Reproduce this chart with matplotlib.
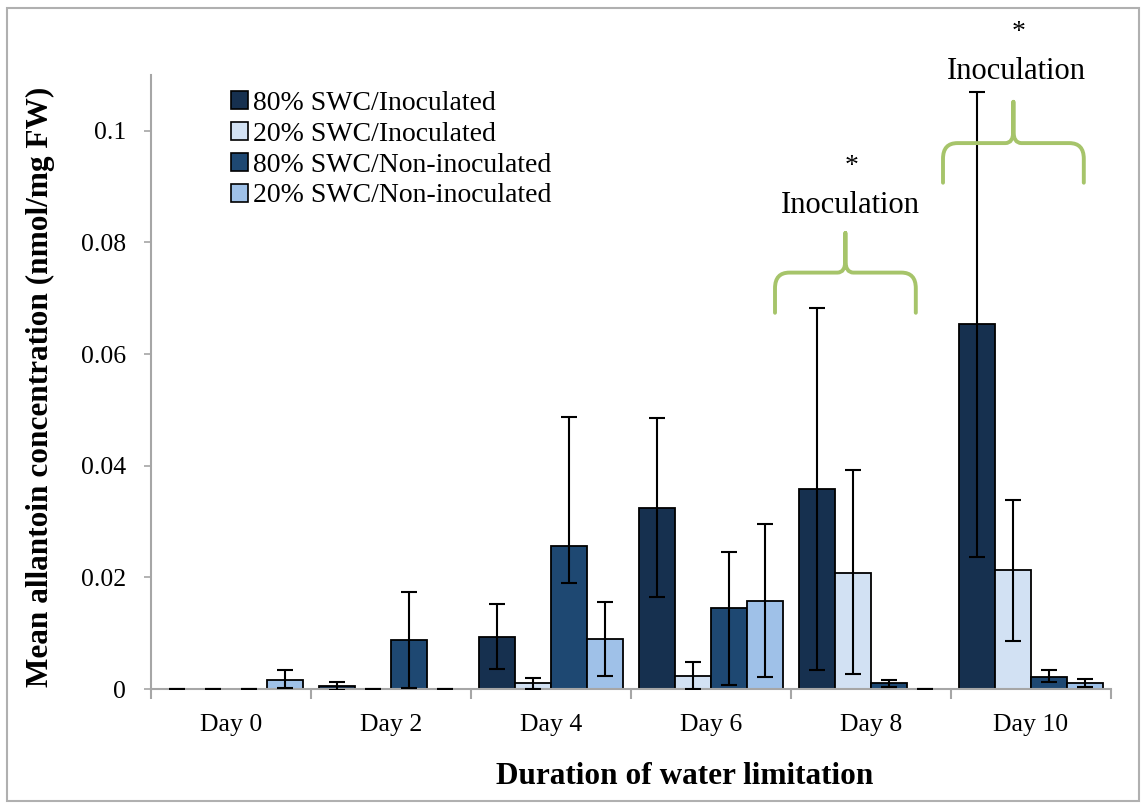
import matplotlib
matplotlib.use("Agg")
import matplotlib.pyplot as plt
import matplotlib.patches as mpatches
from matplotlib.path import Path
import numpy as np

# ── Datos ────────────────────────────────────────────────────────────────────
days = ["Day 0", "Day 2", "Day 4", "Day 6", "Day 8", "Day 10"]
series_names = [
    "80% SWC/Inoculated",
    "20% SWC/Inoculated",
    "80% SWC/Non-inoculated",
    "20% SWC/Non-inoculated",
]
inoc_80 = [0.0, 0.0006, 0.0094, 0.0324, 0.0358, 0.0654]
inoc_20 = [0.0, 0.0, 0.0010, 0.0024, 0.0208, 0.0213]
noninoc_80 = [0.0, 0.0087, 0.0257, 0.0146, 0.0010, 0.0021]
noninoc_20 = [0.0017, 0.0, 0.0089, 0.0158, 0.0, 0.0011]

# error inferior / superior
inoc_80_err = [[0.0, 0.0007, 0.0058, 0.0160, 0.0324, 0.0417],
               [0.0, 0.0007, 0.0058, 0.0162, 0.0325, 0.0416]]
inoc_20_err = [[0.0, 0.0, 0.0010, 0.0024, 0.0182, 0.0127],
               [0.0, 0.0, 0.0010, 0.0024, 0.0184, 0.0126]]
noninoc_80_err = [[0.0, 0.0086, 0.0067, 0.0138, 0.0006, 0.0008],
                  [0.0, 0.0086, 0.0231, 0.0100, 0.0006, 0.0013]]
noninoc_20_err = [[0.0016, 0.0, 0.0066, 0.0137, 0.0, 0.0007],
                  [0.0017, 0.0, 0.0066, 0.0138, 0.0, 0.0007]]

y_ticks = [0, 0.02, 0.04, 0.06, 0.08, 0.1]
y_tick_labels = ["0", "0.02", "0.04", "0.06", "0.08", "0.1"]

# Colores por serie
_COLORS = ["#16304f", "#d2e1f3", "#1e4872", "#9fc1e8"]
_BRACE_COLOR = "#a6c46a"
_GRAY = "#a6a6a6"

plt.rcParams["font.family"] = ["Liberation Serif", "DejaVu Serif"]

fig = plt.figure(figsize=(11.47, 8.09), dpi=100)
ax = fig.add_axes([151 / 1147, 120 / 809, 960 / 1147, 614 / 809])

values = [inoc_80, inoc_20, noninoc_80, noninoc_20]
errors = [inoc_80_err, inoc_20_err, noninoc_80_err, noninoc_20_err]

x = np.arange(len(days))
w = 0.225
for k, (vals, err) in enumerate(zip(values, errors)):
    pos = x + (k - 1.5) * w
    ax.bar(pos, vals, width=w, color=_COLORS[k], edgecolor="black",
           linewidth=1.3, label=series_names[k], zorder=2)
    ax.errorbar(pos, vals, yerr=np.array(err), fmt="none", ecolor="black",
                elinewidth=1.5, capsize=5.8, capthick=1.5, zorder=3)

# ── Ejes ─────────────────────────────────────────────────────────────────────
ax.set_xlim(-0.5, len(days) - 0.5)
ax.set_ylim(0, 0.11)
ax.set_yticks(y_ticks)
ax.set_yticklabels(y_tick_labels)
ax.set_xticks(x)
ax.set_xticklabels(days)
ax.set_xticks(np.arange(len(days) + 1) - 0.5, minor=True)
ax.tick_params(axis="x", which="major", length=0, pad=18, labelsize=18.5)
ax.tick_params(axis="x", which="minor", length=7, width=1.5,
               color=_GRAY, direction="out")
ax.tick_params(axis="y", length=5, width=1.2, color=_GRAY, pad=13,
               labelsize=18.5)
for side in ["top", "right"]:
    ax.spines[side].set_visible(False)
for side in ["left", "bottom"]:
    ax.spines[side].set_color(_GRAY)
    ax.spines[side].set_linewidth(1.5)

fig.text(40 / 1147, 1 - 387 / 809,
         "Mean allantoin concentration (nmol/mg FW)",
         rotation=90, ha="center", va="center", fontsize=22.5,
         fontweight="bold")
fig.text(685 / 1147, 1 - 777 / 809, "Duration of water limitation",
         ha="center", va="center", fontsize=22.5, fontweight="bold")

# ── Leyenda ──────────────────────────────────────────────────────────────────
handles = [mpatches.Patch(facecolor=_COLORS[k], edgecolor="black",
                          linewidth=1.2, label=series_names[k])
           for k in range(4)]
ax.legend(handles=handles, loc="upper left",
          bbox_to_anchor=(231 / 1147, 1 - 91 / 809),
          bbox_transform=fig.transFigure, frameon=False, fontsize=20,
          handlelength=0.6, handleheight=0.6, handletextpad=0.2,
          labelspacing=0.21, borderpad=0, borderaxespad=0)


# ── Llaves "Inoculation" ─────────────────────────────────────────────────────
def draw_brace(ax, x0, x1, xm, ybar, yend, ytip):
    rx, ry = 0.09, 0.0028
    tx, ty = 0.05, 0.0022
    verts = [
        (x0, yend), (x0, ybar - ry), (x0, ybar), (x0 + rx, ybar),
        (xm - tx, ybar), (xm, ybar), (xm, ybar + ty), (xm, ytip),
        (xm, ytip), (xm, ybar + ty), (xm, ybar), (xm + tx, ybar),
        (x1 - rx, ybar), (x1, ybar), (x1, ybar - ry), (x1, yend),
    ]
    codes = [
        Path.MOVETO, Path.LINETO, Path.CURVE3, Path.CURVE3,
        Path.LINETO, Path.CURVE3, Path.CURVE3, Path.LINETO,
        Path.MOVETO, Path.LINETO, Path.CURVE3, Path.CURVE3,
        Path.LINETO, Path.CURVE3, Path.CURVE3, Path.LINETO,
    ]
    patch = mpatches.PathPatch(Path(verts, codes), facecolor="none",
                               edgecolor=_BRACE_COLOR, linewidth=2.8,
                               capstyle="round", joinstyle="round",
                               clip_on=False, zorder=4)
    ax.add_patch(patch)


brace_specs = [
    # x0, x1, xm, ybar, yend, ytip, texto_x, texto_y, asterisco_y
    (3.40, 4.28, 3.84, 0.0746, 0.0674, 0.0817, 3.87, 0.0866, 0.0936),
    (4.45, 5.33, 4.89, 0.0978, 0.0907, 0.1052, 4.91, 0.1106, 0.1176),
]
for (x0, x1, xm, yb, ye, yt, tx_, ty_, sy) in brace_specs:
    draw_brace(ax, x0, x1, xm, yb, ye, yt)
    ax.text(tx_, ty_, "Inoculation", ha="center", va="center",
            fontsize=22, clip_on=False)
    ax.text(tx_ + 0.01, sy, "*", ha="center", va="center",
            fontsize=20, clip_on=False)

# Marco exterior
fig.patches.append(mpatches.Rectangle(
    (7 / 1147, 8 / 809), 1132 / 1147, 793 / 809, transform=fig.transFigure,
    fill=False, edgecolor="#b0b0b0", linewidth=1.5))

fig.savefig("out.png", dpi=100)
